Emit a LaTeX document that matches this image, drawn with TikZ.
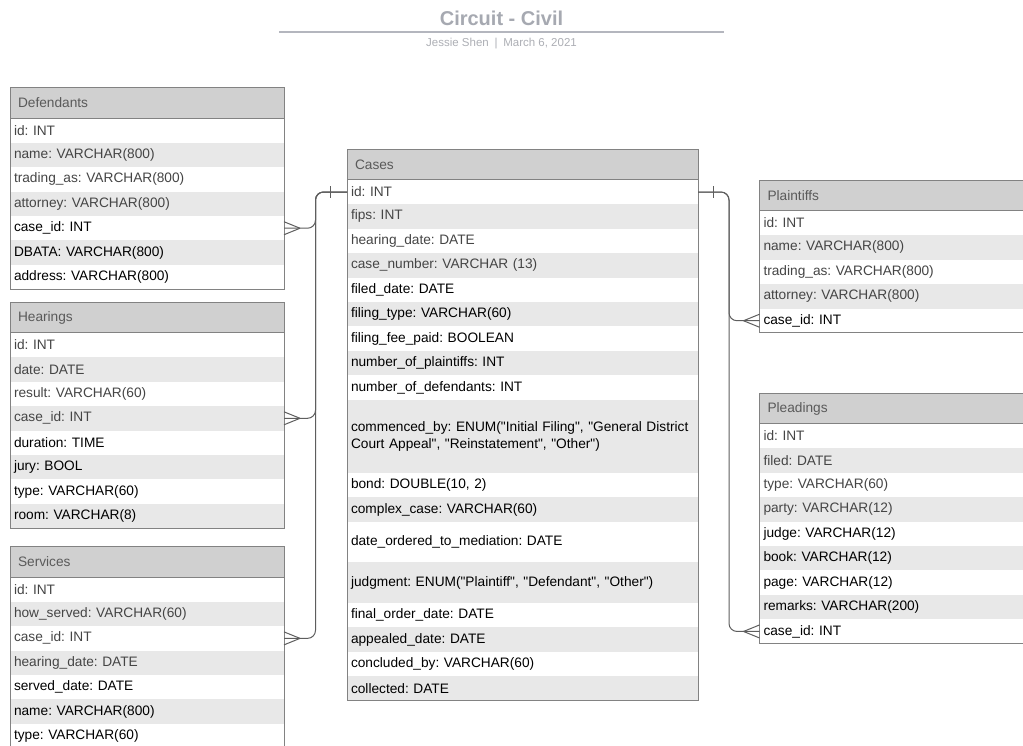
\documentclass[tikz,border=0pt]{standalone}
\usepackage{fontspec}
\setmainfont{Liberation Sans}[Ligatures=TeXOff]
\usetikzlibrary{calc}
\definecolor{hdrgray}{HTML}{D0D0D0}
\definecolor{rowgray}{HTML}{E8E8E8}
\definecolor{edgec}{HTML}{828282}
\definecolor{hdrtext}{HTML}{5A5A5A}
\definecolor{softtext}{HTML}{454545}
\definecolor{linkc}{HTML}{5E5E5E}
\definecolor{titlec}{HTML}{A6A9B1}
\definecolor{rulec}{HTML}{B4B6BE}
\definecolor{subc}{HTML}{ADAFB5}
\begin{document}
\frenchspacing
\begin{tikzpicture}[x=1pt,y=-1pt,
  cell/.style={anchor=north west, outer sep=0pt, inner ysep=0pt, align=left, font=\frenchspacing\fontsize{13.7}{17}\selectfont},
  hdr/.style={cell, fill=hdrgray, text=hdrtext, minimum height=30.5pt, inner xsep=8pt},
  rw/.style={cell, inner xsep=4pt, minimum height=24.43pt},
  rw1/.style={rw, fill=white, text=softtext},
  rw2/.style={rw, fill=rowgray, text=softtext},
  rw3/.style={rw, fill=white, text=black},
  rw4/.style={rw, fill=rowgray, text=black},
  box/.style={draw=edgec, line width=1pt},
  conn/.style={draw=linkc, line width=1pt, rounded corners=8pt},
  tick/.style={draw=linkc, line width=1pt},
]
\useasboundingbox (0,0) rectangle (1023,746);
\clip (0,0) rectangle (1023,746);
\fill[white] (0,0) rectangle (1023,746);

% title
\node[font=\bfseries\fontsize{20}{24}\selectfont, text=titlec] (title) at (501.5,18) {Circuit - Civil};
\coordinate (ruleL) at (279,32);
\coordinate (ruleR) at (724,32);
\draw[rulec, line width=1.5pt] (ruleL) -- (ruleR);
\node[font=\fontsize{11.5}{13}\selectfont, text=subc] (sub) at (501.5,44) {Jessie Shen\enspace|\enspace March 6, 2021};

% ---------------- left tables ----------------
\begin{scope}[rw/.append style={text width=266pt}, hdr/.append style={text width=258pt}]
% Defendants
\node[hdr] (dfh) at (10,87.8) {Defendants};
\node[rw1] (df1) at (dfh.south west) {id: INT};
\node[rw2] (df2) at (df1.south west) {name: VARCHAR(800)};
\node[rw1] (df3) at (df2.south west) {trading\_as: VARCHAR(800)};
\node[rw2] (df4) at (df3.south west) {attorney: VARCHAR(800)};
\node[rw3] (df5) at (df4.south west) {case\_id: INT};
\node[rw4] (df6) at (df5.south west) {DBATA: VARCHAR(800)};
\node[rw3] (df7) at (df6.south west) {address: VARCHAR(800)};
\draw[box] (dfh.north west) rectangle (df7.south east);
\draw[box] (dfh.south west) -- (dfh.south east);

% Hearings
\node[hdr] (hrh) at (10,302.3) {Hearings};
\node[rw1] (hr1) at (hrh.south west) {id: INT};
\node[rw2] (hr2) at (hr1.south west) {date: DATE};
\node[rw1] (hr3) at (hr2.south west) {result: VARCHAR(60)};
\node[rw2] (hr4) at (hr3.south west) {case\_id: INT};
\node[rw3] (hr5) at (hr4.south west) {duration: TIME};
\node[rw4] (hr6) at (hr5.south west) {jury: BOOL};
\node[rw3] (hr7) at (hr6.south west) {type: VARCHAR(60)};
\node[rw4] (hr8) at (hr7.south west) {room: VARCHAR(8)};
\draw[box] (hrh.north west) rectangle (hr8.south east);
\draw[box] (hrh.south west) -- (hrh.south east);

% Services
\node[hdr] (svh) at (10,546.8) {Services};
\node[rw1] (sv1) at (svh.south west) {id: INT};
\node[rw2] (sv2) at (sv1.south west) {how\_served: VARCHAR(60)};
\node[rw1] (sv3) at (sv2.south west) {case\_id: INT};
\node[rw2] (sv4) at (sv3.south west) {hearing\_date: DATE};
\node[rw3] (sv5) at (sv4.south west) {served\_date: DATE};
\node[rw4] (sv6) at (sv5.south west) {name: VARCHAR(800)};
\node[rw3] (sv7) at (sv6.south west) {type: VARCHAR(60)};
\draw[box] (svh.north west) rectangle (sv7.south east);
\draw[box] (svh.south west) -- (svh.south east);
\end{scope}

% ---------------- Cases ----------------
\begin{scope}[rw/.append style={text width=343pt}, hdr/.append style={text width=335pt}]
\node[hdr] (csh) at (347,149.3) {Cases};
\node[rw1] (cs1) at (csh.south west) {id: INT};
\node[rw2] (cs2) at (cs1.south west) {fips: INT};
\node[rw1] (cs3) at (cs2.south west) {hearing\_date: DATE};
\node[rw2] (cs4) at (cs3.south west) {case\_number: VARCHAR (13)};
\node[rw3] (cs5) at (cs4.south west) {filed\_date: DATE};
\node[rw4] (cs6) at (cs5.south west) {filing\_type: VARCHAR(60)};
\node[rw3] (cs7) at (cs6.south west) {filing\_fee\_paid: BOOLEAN};
\node[rw4] (cs8) at (cs7.south west) {number\_of\_plaintiffs: INT};
\node[rw3] (cs9) at (cs8.south west) {number\_of\_defendants: INT};
\node[rw4, minimum height=73.3pt] (cs10) at (cs9.south west) {commenced\_by: ENUM("Initial Filing", "General District\\Court Appeal", "Reinstatement", "Other")};
\node[rw3] (cs11) at (cs10.south west) {bond: DOUBLE(10, 2)};
\node[rw4] (cs12) at (cs11.south west) {complex\_case: VARCHAR(60)};
\node[rw3, minimum height=40.6pt] (cs13) at (cs12.south west) {date\_ordered\_to\_mediation: DATE};
\node[rw4, minimum height=40.6pt] (cs14) at (cs13.south west) {judgment: ENUM("Plaintiff", "Defendant", "Other")};
\node[rw3] (cs15) at (cs14.south west) {final\_order\_date: DATE};
\node[rw4] (cs16) at (cs15.south west) {appealed\_date: DATE};
\node[rw3] (cs17) at (cs16.south west) {concluded\_by: VARCHAR(60)};
\node[rw4] (cs18) at (cs17.south west) {collected: DATE};
\draw[box] (csh.north west) rectangle (cs18.south east);
\draw[box] (csh.south west) -- (csh.south east);
\end{scope}

% ---------------- right tables ----------------
\begin{scope}[rw/.append style={text width=282pt}, hdr/.append style={text width=274pt}]
% Plaintiffs
\node[hdr] (plh) at (759.5,180.3) {Plaintiffs};
\node[rw1] (pl1) at (plh.south west) {id: INT};
\node[rw2] (pl2) at (pl1.south west) {name: VARCHAR(800)};
\node[rw1] (pl3) at (pl2.south west) {trading\_as: VARCHAR(800)};
\node[rw2] (pl4) at (pl3.south west) {attorney: VARCHAR(800)};
\node[rw3] (pl5) at (pl4.south west) {case\_id: INT};
\draw[box] (plh.north west) rectangle (pl5.south east);
\draw[box] (plh.south west) -- (plh.south east);

% Pleadings
\node[hdr] (pdh) at (759.5,393.3) {Pleadings};
\node[rw1] (pd1) at (pdh.south west) {id: INT};
\node[rw2] (pd2) at (pd1.south west) {filed: DATE};
\node[rw1] (pd3) at (pd2.south west) {type: VARCHAR(60)};
\node[rw2] (pd4) at (pd3.south west) {party: VARCHAR(12)};
\node[rw3] (pd5) at (pd4.south west) {judge: VARCHAR(12)};
\node[rw4] (pd6) at (pd5.south west) {book: VARCHAR(12)};
\node[rw3] (pd7) at (pd6.south west) {page: VARCHAR(12)};
\node[rw4] (pd8) at (pd7.south west) {remarks: VARCHAR(200)};
\node[rw3] (pd9) at (pd8.south west) {case\_id: INT};
\draw[box] (pdh.north west) rectangle (pd9.south east);
\draw[box] (pdh.south west) -- (pdh.south east);
\end{scope}

% ---------------- connectors ----------------
\coordinate (tl) at (315.5,0);
\coordinate (tr) at (729,0);

\draw[conn] (cs1.west) -| (tl |- df5.east) -- (df5.east);
\draw[conn] (cs1.west) -| (tl |- hr4.east) -- (hr4.east);
\draw[conn] (cs1.west) -| (tl |- sv3.east) -- (sv3.east);
\draw[conn] (cs1.east) -| (tr |- pl5.west) -- (pl5.west);
\draw[conn] (cs1.east) -| (tr |- pd9.west) -- (pd9.west);

% one bars
\draw[tick] ($(cs1.west)+(-17,-6)$) -- ($(cs1.west)+(-17,6)$);
\draw[tick] ($(cs1.east)+(15,-6)$) -- ($(cs1.east)+(15,6)$);

% crow's feet (many)
\foreach \n in {df5,hr4,sv3}{
  \draw[tick] ($(\n.east)+(16,0)$) -- ($(\n.east)+(0,-6.5)$);
  \draw[tick] ($(\n.east)+(16,0)$) -- ($(\n.east)+(0,6.5)$);
}
\foreach \n in {pl5,pd9}{
  \draw[tick] ($(\n.west)+(-16,0)$) -- ($(\n.west)+(0,-6.5)$);
  \draw[tick] ($(\n.west)+(-16,0)$) -- ($(\n.west)+(0,6.5)$);
}
\end{tikzpicture}
\end{document}
